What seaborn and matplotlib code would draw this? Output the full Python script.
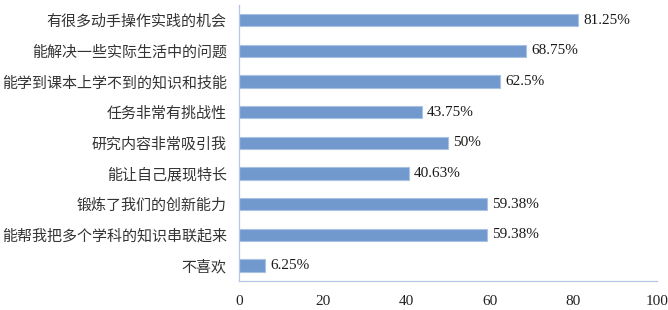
import numpy as np
import pandas as pd
import matplotlib
matplotlib.use("Agg")
import matplotlib.pyplot as plt
import seaborn as sns

# data
reasons = ["有很多动手操作实践的机会", "能解决一些实际生活中的问题", "能学到课本上学不到的知识和技能",
           "任务非常有挑战性", "研究内容非常吸引我", "能让自己展现特长",
           "锻炼了我们的创新能力", "能帮我把多个学科的知识串联起来", "不喜欢"]
percent = [81.25, 68.75, 62.5, 43.75, 50, 40.63, 59.38, 59.38, 6.25]
value_labels = ["81.25%", "68.75%", "62.5%", "43.75%", "50%", "40.63%", "59.38%", "59.38%", "6.25%"]

df = pd.DataFrame({"reason": reasons, "percent": percent})

sns.set_style("white")
plt.rcParams['font.family'] = ['Noto Sans CJK SC', 'DejaVu Sans']

fig = plt.figure(figsize=(6.68, 3.10), dpi=100)
ax = fig.add_axes([0.358, 0.094, 0.625, 0.89])

sns.barplot(data=df, x="percent", y="reason", order=reasons, orient="h",
            color="#7199CE", saturation=1, width=0.4, edgecolor="#A9C1E3",
            linewidth=0.8, ax=ax)

for i, (v, t) in enumerate(zip(percent, value_labels)):
    ax.text(v + 1.2, i, t, va="center", ha="left", fontsize=11,
            family="Liberation Serif", color="#1a1a1a")

ax.set_xlim(0, 100)
ax.set_ylim(len(reasons) - 0.5, -0.5)
ax.set_xticks([0, 20, 40, 60, 80, 100])
ax.set_xticklabels(["0", "20", "40", "60", "80", "100"], family="Liberation Serif", fontsize=11)
ax.set_xlabel("")
ax.set_ylabel("")

ax.tick_params(axis="y", which="major", length=0, pad=9, labelsize=10.8, labelcolor="#333333")
ax.set_yticks(np.arange(-0.5, len(reasons), 1), minor=True)
ax.tick_params(axis="y", which="minor", length=5, width=0.8, color="#B4C7E7", direction="out")
ax.tick_params(axis="x", length=0, pad=10, labelcolor="#222222")

for s in ["top", "right"]:
    ax.spines[s].set_visible(False)
for s in ["left", "bottom"]:
    ax.spines[s].set_color("#B4C7E7")
    ax.spines[s].set_linewidth(0.9)

fig.savefig("out.png", dpi=100)
